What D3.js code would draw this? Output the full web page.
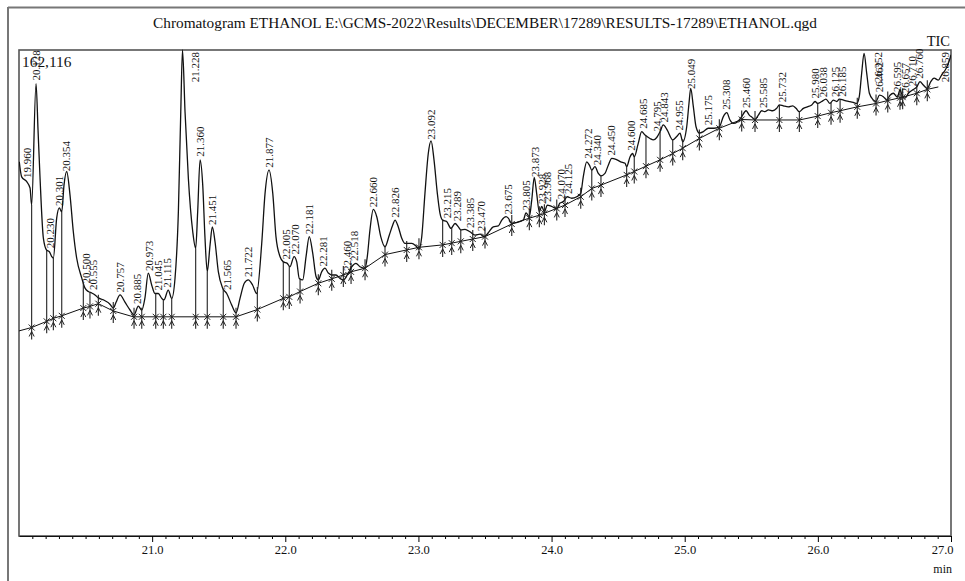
<!DOCTYPE html>
<html>
<head>
<meta charset="utf-8">
<script src="https://cdn.jsdelivr.net/npm/d3@7"></script>
<style>
body { margin: 0; background: #fff; }
text { font-family: "Liberation Serif", "Times New Roman", serif; fill: #111; }
</style>
</head>
<body>
<svg id="chart" width="965" height="581"></svg>
<script>
// ---- data (time in min, intensity in % of 162,116) ----
const titleText = "Chromatogram ETHANOL E:\\GCMS-2022\\Results\\DECEMBER\\17289\\RESULTS-17289\\ETHANOL.qgd";
const maxCountLabel = "162,116";
const xTicks = [21, 22, 23, 24, 25, 26, 27];

const traceTime = [20.002,20.020,20.058,20.083,20.095,20.128,20.143,20.158,20.183,20.208,20.228,20.246,20.258,20.283,20.303,20.321,20.338,20.358,20.383,20.408,
  20.433,20.471,20.496,20.521,20.546,20.571,20.596,20.633,20.683,20.708,20.729,20.759,20.796,20.834,20.864,20.896,20.922,20.946,20.971,20.997,
  21.021,21.046,21.072,21.089,21.121,21.147,21.172,21.197,21.215,21.228,21.247,21.272,21.305,21.327,21.342,21.360,21.380,21.397,21.414,21.435,
  21.452,21.472,21.497,21.530,21.560,21.598,21.630,21.660,21.692,21.722,21.755,21.785,21.823,21.848,21.878,21.906,21.930,21.960,21.985,22.015,
  22.035,22.066,22.086,22.105,22.131,22.156,22.180,22.206,22.231,22.248,22.274,22.298,22.323,22.349,22.381,22.411,22.436,22.473,22.499,22.531,
  22.561,22.599,22.616,22.636,22.661,22.687,22.717,22.749,22.781,22.807,22.824,22.849,22.874,22.899,22.950,22.980,23.004,23.025,23.049,23.074,
  23.095,23.117,23.142,23.162,23.182,23.212,23.245,23.275,23.300,23.318,23.350,23.387,23.425,23.463,23.493,23.525,23.562,23.600,23.626,23.658,
  23.675,23.701,23.738,23.788,23.808,23.833,23.851,23.870,23.888,23.908,23.926,23.946,23.968,24.001,24.039,24.063,24.088,24.118,24.151,24.189,
  24.219,24.238,24.264,24.284,24.302,24.326,24.351,24.371,24.401,24.426,24.452,24.484,24.519,24.552,24.564,24.589,24.609,24.621,24.651,24.677,
  24.702,24.739,24.764,24.790,24.815,24.839,24.869,24.910,24.940,24.965,24.985,25.015,25.032,25.045,25.065,25.085,25.110,25.140,25.177,25.220,
  25.260,25.290,25.316,25.340,25.365,25.395,25.428,25.461,25.485,25.503,25.528,25.553,25.578,25.603,25.628,25.661,25.691,25.711,25.741,25.778,
  25.811,25.836,25.861,25.891,25.921,25.954,25.979,25.999,26.029,26.061,26.091,26.116,26.142,26.161,26.204,26.236,26.266,26.292,26.311,26.329,
  26.347,26.367,26.387,26.417,26.437,26.462,26.492,26.517,26.542,26.567,26.597,26.617,26.637,26.655,26.680,26.713,26.743,26.767,26.792,26.822,
  26.848,26.873,26.905,26.930,26.963,26.993,27.000];
const traceInt = [77.0,73.9,72.9,71.6,68.1,93.1,83.5,73.7,61.3,58.8,58.5,57.5,57.2,65.4,67.5,66.7,72.2,75.0,70.2,62.6,
  57.2,53.1,51.0,50.3,50.0,49.6,49.0,48.6,47.7,46.9,48.1,49.6,48.1,46.5,45.5,47.3,46.5,49.0,54.1,51.6,
  49.9,49.9,48.9,48.6,50.6,48.9,53.1,66.7,87.3,100,87.3,73.6,62.6,59.2,66.7,77.4,72.2,61.3,54.4,59.9,
  63.6,60.6,54.4,51.0,49.9,47.5,45.9,48.9,52.0,52.7,51.6,49.9,60.2,70.5,75.3,70.5,61.6,57.5,56.4,56.1,
  55.4,57.5,56.4,53.0,52.7,57.5,61.6,58.2,53.4,52.7,54.4,55.1,54.1,53.7,53.7,53.0,52.7,54.1,55.4,56.1,
  55.4,55.1,57.5,63.0,67.2,65.7,61.6,59.5,61.9,64.0,65.0,63.6,61.3,60.2,60.2,59.7,59.0,61.6,70.5,78.7,
  81.3,77.4,70.5,66.4,65.0,64.7,63.3,64.3,63.6,63.0,63.1,62.6,61.9,62.1,61.6,62.4,63.6,63.8,65.0,65.7,
  65.4,64.3,64.5,65.0,66.5,65.7,69.1,73.8,70.5,66.7,67.8,66.7,68.1,67.8,67.4,68.5,68.8,69.8,69.5,69.8,
  70.5,73.9,77.0,76.3,75.3,76.0,74.6,74.1,74.6,76.3,77.7,77.5,77.0,76.7,76.0,78.0,78.7,78.0,80.8,83.2,
  82.5,81.8,81.5,82.0,83.2,84.6,83.5,81.5,82.2,82.9,81.1,84.2,89.0,92.1,88.3,84.2,82.9,83.2,83.9,83.9,
  84.2,86.3,87.1,85.6,84.9,85.2,86.3,87.5,86.6,86.2,85.7,86.6,87.5,87.3,87.7,87.5,88.0,88.7,88.5,88.3,
  88.5,88.0,87.3,88.0,88.3,88.7,89.4,89.0,89.4,89.9,89.0,89.7,89.4,89.9,89.6,89.4,89.2,89.0,90.4,95.2,
  99.3,95.2,91.1,89.7,89.4,90.7,90.4,89.7,90.7,91.1,90.3,91.8,90.4,90.1,91.1,91.8,92.4,93.5,92.8,92.1,
  93.5,94.2,93.8,94.9,96.2,98.3,99.0];

const baseTime = [20.000,20.095,20.220,20.258,20.321,20.483,20.528,20.596,20.708,20.859,21.630,21.790,21.985,22.030,22.111,22.248,22.436,22.499,22.599,22.749,
  23.004,23.182,23.500,23.701,23.833,23.908,23.946,24.039,24.101,24.219,24.302,24.371,24.564,24.621,24.709,24.815,24.910,24.985,25.110,25.260,
  25.428,25.528,25.861,25.999,26.099,26.167,26.296,26.437,26.525,26.637,26.743,26.822,26.905];
const baseInt = [42.2,42.9,44.3,44.8,45.3,46.9,47.2,47.8,46.3,45.1,45.1,46.6,48.9,49.2,50.3,52.0,53.7,54.4,55.1,57.9,
  59.4,59.9,61.6,64.2,65.4,66.0,66.4,67.4,68.1,69.8,71.5,72.2,74.3,75.0,76.1,77.4,78.7,79.8,81.8,83.9,
  85.7,85.6,85.6,86.4,87.1,87.5,88.3,89.0,89.6,90.3,91.1,91.9,92.4];

const markTime = [20.095,20.208,20.258,20.321,20.483,20.533,20.596,20.708,20.864,20.922,21.027,21.084,21.147,21.327,21.414,21.534,21.630,21.790,21.985,22.030,
  22.111,22.248,22.349,22.436,22.494,22.599,22.749,22.912,23.004,23.182,23.250,23.318,23.408,23.500,23.701,23.833,23.908,23.946,24.039,24.101,
  24.219,24.302,24.371,24.564,24.621,24.709,24.815,24.910,24.985,25.110,25.260,25.428,25.528,25.711,25.861,25.999,26.099,26.167,26.296,26.437,
  26.525,26.617,26.637,26.743,26.822];

const peakLabels = ["19.960","20.128","20.230","20.301","20.354","20.500","20.555","20.757","20.885","20.973","21.045","21.115","21.228","21.360","21.451",
  "21.565","21.722","21.877","22.005","22.070","22.181","22.281","22.460","22.518","22.660","22.826","23.092","23.215","23.289","23.385",
  "23.470","23.675","23.805","23.873","23.928","23.968","24.070","24.125","24.272","24.340","24.450","24.600","24.685","24.795","24.843",
  "24.955","25.049","25.175","25.308","25.460","25.585","25.732","25.980","26.038","26.125","26.185","26.352","26.462","26.595","26.657",
  "26.710","26.760","26.859"];

// ---- scales ----
const svg = d3.select("#chart");
const plotLeft = 19, plotRight = 951, plotTop = 50, plotBottom = 536;
const x = d3.scaleLinear().domain([20, 27]).range([plotLeft, plotRight]);
const y = d3.scaleLinear().domain([0, 100]).range([plotBottom, plotTop]);

function interp(ts, vs, t) {
  const i = d3.bisectLeft(ts, t);
  if (i <= 0) return vs[0];
  if (i >= ts.length) return vs[vs.length - 1];
  const f = (t - ts[i - 1]) / (ts[i] - ts[i - 1]);
  return vs[i - 1] + f * (vs[i] - vs[i - 1]);
}

// outer frame (only top and left visible)
svg.append("line").attr("x1", 8).attr("x2", 965).attr("y1", 7.5).attr("y2", 7.5)
  .attr("stroke", "#777").attr("stroke-width", 2);
svg.append("line").attr("x1", 8).attr("x2", 8).attr("y1", 7).attr("y2", 581)
  .attr("stroke", "#777").attr("stroke-width", 2);

svg.append("text").attr("x", 485).attr("y", 28).attr("text-anchor", "middle")
  .style("font-size", "15.3px").text(titleText);

svg.append("clipPath").attr("id", "plotClip").append("rect")
  .attr("x", plotLeft).attr("y", plotTop - 1).attr("width", plotRight - plotLeft).attr("height", plotBottom - plotTop + 1);

// plot border
svg.append("rect").attr("x", plotLeft).attr("y", plotTop).attr("width", plotRight - plotLeft).attr("height", plotBottom - plotTop)
  .attr("fill", "none").attr("stroke", "#555").attr("stroke-width", 1.6);

// axes
const minorTicks = d3.range(201, 270).map(d => d / 10).filter(d => Math.abs(d - Math.round(d)) > 0.01);
svg.append("g").attr("transform", `translate(0,${plotBottom})`)
  .call(d3.axisBottom(x).tickValues(minorTicks).tickSize(3).tickFormat(""))
  .call(g => g.select(".domain").remove());
const xAxisG = svg.append("g").attr("transform", `translate(0,${plotBottom})`)
  .call(d3.axisBottom(x).tickValues(xTicks).tickSize(6).tickSizeOuter(0).tickFormat(d3.format(".1f")));
xAxisG.select(".domain").attr("stroke", "#111").attr("stroke-width", 1.2);
xAxisG.selectAll("text").style("font-family", "'Liberation Serif', serif").style("font-size", "12.5px").attr("fill", "#111");
xAxisG.selectAll(".tick").filter(d => d === 27).select("text").attr("text-anchor", "end").attr("x", 2);
svg.append("text").attr("x", 952).attr("y", 573).attr("text-anchor", "end").style("font-size", "12px").text("min");

const plot = svg.append("g").attr("clip-path", "url(#plotClip)");

// baseline
const baseData = baseTime.map((t, i) => [t, baseInt[i]]);
plot.append("path").datum(baseData)
  .attr("fill", "none").attr("stroke", "#111").attr("stroke-width", 1)
  .attr("d", d3.line().x(d => x(d[0])).y(d => y(d[1])));

// trace
const traceData = traceTime.map((t, i) => [t, traceInt[i]]);
plot.append("path").datum(traceData)
  .attr("fill", "none").attr("stroke", "#111").attr("stroke-width", 1.3)
  .attr("d", d3.line().x(d => x(d[0])).y(d => y(d[1])).curve(d3.curveMonotoneX));

// peak boundary markers: drop line, arrow and cross on the baseline
const marks = plot.selectAll(".mark").data(markTime).enter().append("g").attr("class", "mark");
marks.each(function(t) {
  const g = d3.select(this);
  const mx = x(t);
  const by = y(interp(baseTime, baseInt, t));
  const ty = y(interp(traceTime, traceInt, t));
  const upTo = Math.min(ty, by - 9);
  g.append("line").attr("x1", mx).attr("x2", mx).attr("y1", by + 12).attr("y2", upTo)
    .attr("stroke", "#222").attr("stroke-width", 1.1);
  g.append("path").attr("d", `M${mx - 3},${by - 3}L${mx + 3},${by + 3}M${mx - 3},${by + 3}L${mx + 3},${by - 3}`)
    .attr("stroke", "#222").attr("stroke-width", 1);
  g.append("path").attr("d", `M${mx - 2.5},${by + 9}L${mx},${by + 4}L${mx + 2.5},${by + 9}`)
    .attr("fill", "none").attr("stroke", "#222").attr("stroke-width", 1);
});

// peak labels (rotated retention times)
const labelG = svg.append("g");
peakLabels.forEach(s => {
  const t = +s;
  const px = Math.max(x(t), plotLeft + 8);
  const tc = x.invert(px);
  const v = Math.max(interp(traceTime, traceInt, tc),
                     interp(traceTime, traceInt, tc - 0.008),
                     interp(traceTime, traceInt, tc + 0.008));
  const py = y(v) - 3;
  const txt = labelG.append("text").style("font-size", "11px").text(s);
  const len = txt.node().getComputedTextLength();
  if (py - len < plotTop - 2) {
    txt.attr("text-anchor", "end")
      .attr("transform", `translate(${px + 17},${plotTop + 2}) rotate(-90)`);
  } else {
    txt.attr("text-anchor", "start")
      .attr("transform", `translate(${px + 4},${py}) rotate(-90)`);
  }
});

svg.append("text").attr("x", 22).attr("y", 67).style("font-size", "15.4px").text(maxCountLabel);
svg.append("text").attr("x", 950).attr("y", 46).attr("text-anchor", "end").style("font-size", "14.5px").text("TIC");
</script>
</body>
</html>
